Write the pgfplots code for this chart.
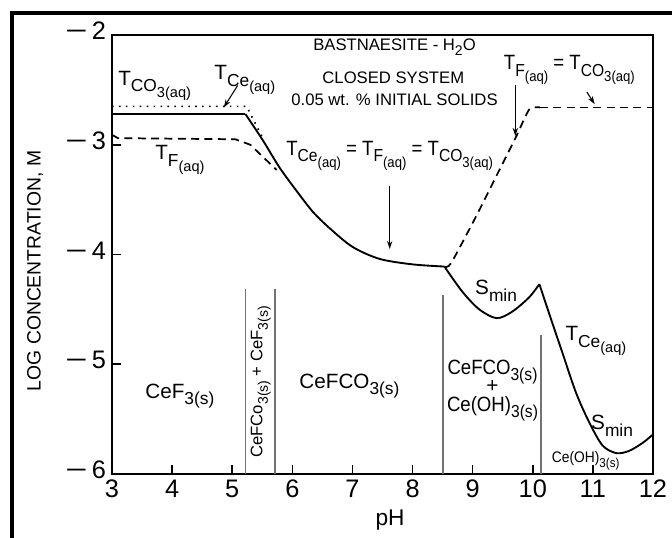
\documentclass[border=0pt]{standalone}
\usepackage{fontspec}
\setmainfont{Liberation Sans}
\usepackage{pgfplots}
\pgfplotsset{compat=1.18}
\usetikzlibrary{arrows.meta}

% text subscripts (stay in the text font)
\newcommand{\sub}[1]{\raisebox{-0.6ex}{\scalebox{0.84}{#1}}}
\newcommand{\mn}{\scalebox{1.5}[1]{−}\,}
\newcommand{\lbl}{\fontsize{15.5}{17}\selectfont}
% slightly condensed setting for the longer labels
\newcommand{\nar}[1]{\scalebox{0.9}[1]{#1}}

\begin{document}
\begin{tikzpicture}[x=0.75pt,y=0.75pt]
\useasboundingbox (-112,-64) rectangle (560,474);
% outer frame
\draw[line width=3pt] (-100,-66) -- (-100,461) -- (562,461);
\begin{axis}[
  at={(0,0)}, anchor=south west,
  scale only axis, width=405.75pt, height=329.25pt,
  xmin=3, xmax=12, ymin=-6, ymax=-2,
  axis line style={line width=1.5pt},
  xtick={3,...,12}, ytick={-6,-5,-4,-3,-2},
  xticklabels={3,4,5,6,7,8,9,10,11,12},
  yticklabels={\mn6,\mn5,\mn4,\mn3,\mn2},
  xtick pos=bottom, ytick pos=left,
  tick align=inside, major tick length=7pt,
  tick style={line width=1.2pt, black},
  tick label style={font=\fontsize{19}{19}\selectfont},
  xticklabel style={yshift=-1pt},
  yticklabel style={xshift=-1pt, yshift=3pt},
  clip=false,
]
% aqueous totals
\addplot[black, line width=1.4pt] coordinates {(3,-2.72) (5.22,-2.72)};
\addplot[black, line width=1.4pt, smooth, tension=0.5] coordinates {
  (5.22,-2.72) (5.51,-2.96) (5.79,-3.21) (6.07,-3.42) (6.34,-3.61) (6.62,-3.76)
  (7.00,-3.93) (7.45,-4.04) (8.00,-4.09) (8.53,-4.11)};
\addplot[black, line width=1.4pt, smooth, tension=0.5] coordinates {
  (8.53,-4.11) (8.83,-4.34) (9.11,-4.50) (9.40,-4.58) (9.66,-4.52) (9.94,-4.39) (10.11,-4.27)};
\addplot[black, line width=1.4pt, smooth, tension=0.5] coordinates {
  (10.11,-4.27) (10.28,-4.55) (10.49,-4.89) (10.72,-5.26) (10.94,-5.53) (11.16,-5.74)
  (11.39,-5.81) (11.60,-5.79) (11.82,-5.72) (12.0,-5.64)};
% T_F
\addplot[black, line width=1.3pt, dash pattern=on 6pt off 4pt] coordinates {
  (3,-2.91) (3.1,-2.94) (5.05,-2.95) (5.30,-3.00) (5.51,-3.11) (5.74,-3.23)};
\addplot[black, line width=1.3pt, dash pattern=on 6pt off 4pt, smooth, tension=0.4] coordinates {
  (8.53,-4.11) (8.64,-4.08) (9.05,-3.66) (9.39,-3.29) (9.72,-2.93) (9.94,-2.68) (10.12,-2.66)};
\addplot[black, line width=1.3pt, dash pattern=on 6pt off 4pt] coordinates {(10.12,-2.66) (12,-2.66)};
% T_CO3
\addplot[black, line width=1.2pt, dash pattern=on 1.2pt off 4pt] coordinates {
  (3,-2.65) (5.24,-2.65) (5.35,-2.77) (5.5,-2.93)};
% phase boundaries
\addplot[black!55, line width=1.1pt] coordinates {(5.22,-4.31) (5.22,-6)};
\addplot[black!55, line width=1.1pt] coordinates {(5.71,-4.31) (5.71,-6)};
\addplot[black!55, line width=1.1pt] coordinates {(8.51,-4.37) (8.51,-6)};
\addplot[black!55, line width=1.1pt] coordinates {(10.14,-4.73) (10.14,-6)};

% headings
\node[font=\fontsize{12.5}{14}\selectfont] at (axis cs:7.70,-2.11) {BASTNAESITE - H\sub{2}O};
\node[font=\fontsize{12.5}{14}\selectfont] at (axis cs:7.68,-2.39) {CLOSED SYSTEM};
\node[font=\fontsize{12.5}{14}\selectfont] at (axis cs:7.70,-2.59) {0.05 wt. \% INITIAL SOLIDS};
% curve labels
\node[font=\lbl] at (axis cs:3.71,-2.46) {T\sub{CO\sub{3(aq)}}};
\node[font=\lbl] at (axis cs:5.21,-2.41) {T\sub{Ce\sub{(aq)}}};
\node[font=\lbl] at (axis cs:4.13,-3.14) {T\sub{F\sub{(aq)}}};
\node[font=\lbl] at (axis cs:7.62,-3.10) {\nar{T\sub{Ce\sub{(aq)}} = T\sub{F\sub{(aq)}} = T\sub{CO\sub{3(aq)}}}};
\node[font=\lbl] at (axis cs:10.61,-2.32) {\nar{T\sub{F\sub{(aq)}} = T\sub{CO\sub{3(aq)}}}};
\node[font=\lbl] at (axis cs:9.39,-4.33) {S\sub{min}};
\node[font=\lbl] at (axis cs:11.05,-4.79) {T\sub{Ce\sub{(aq)}}};
\node[font=\lbl] at (axis cs:11.32,-5.56) {S\sub{min}};
% solid phases
\node[font=\fontsize{11.5}{12}\selectfont] at (axis cs:10.88,-5.88) {\nar{Ce(OH)\sub{3(s)}}};
\node[font=\lbl, align=center] at (axis cs:9.33,-5.24) {\nar{CeFCO\sub{3(s)}}\\[-3pt]+\\[-3pt]\nar{Ce(OH)\sub{3(s)}}};
\node[font=\lbl] at (axis cs:4.13,-5.29) {CeF\sub{3(s)}};
\node[font=\lbl] at (axis cs:6.95,-5.20) {CeFCO\sub{3(s)}};
\node[font=\fontsize{12.5}{13}\selectfont, rotate=90] at (axis cs:5.475,-5.16) {CeFCo\sub{3(s)} + CeF\sub{3(s)}};
% pointers
\draw[-{Stealth[length=6pt,width=4pt]}, line width=0.8pt] (axis cs:5.09,-2.46) -- (axis cs:4.86,-2.66);
\draw[-{Stealth[length=6pt,width=4pt]}, line width=0.8pt] (axis cs:7.62,-3.38) -- (axis cs:7.62,-3.95);
\draw[-{Stealth[length=6pt,width=4pt]}, line width=0.8pt] (axis cs:9.71,-2.46) -- (axis cs:9.71,-2.92);
\draw[-{Stealth[length=6pt,width=4pt]}, line width=0.8pt] (axis cs:10.90,-2.52) -- (axis cs:11.03,-2.63);
\end{axis}
% axis titles
\node[font=\fontsize{17}{17}\selectfont] at (278,-46) {pH};
\node[font=\fontsize{14.5}{15}\selectfont, rotate=90] at (-77,203) {LOG CONCENTRATION, M};
\end{tikzpicture}
\end{document}
